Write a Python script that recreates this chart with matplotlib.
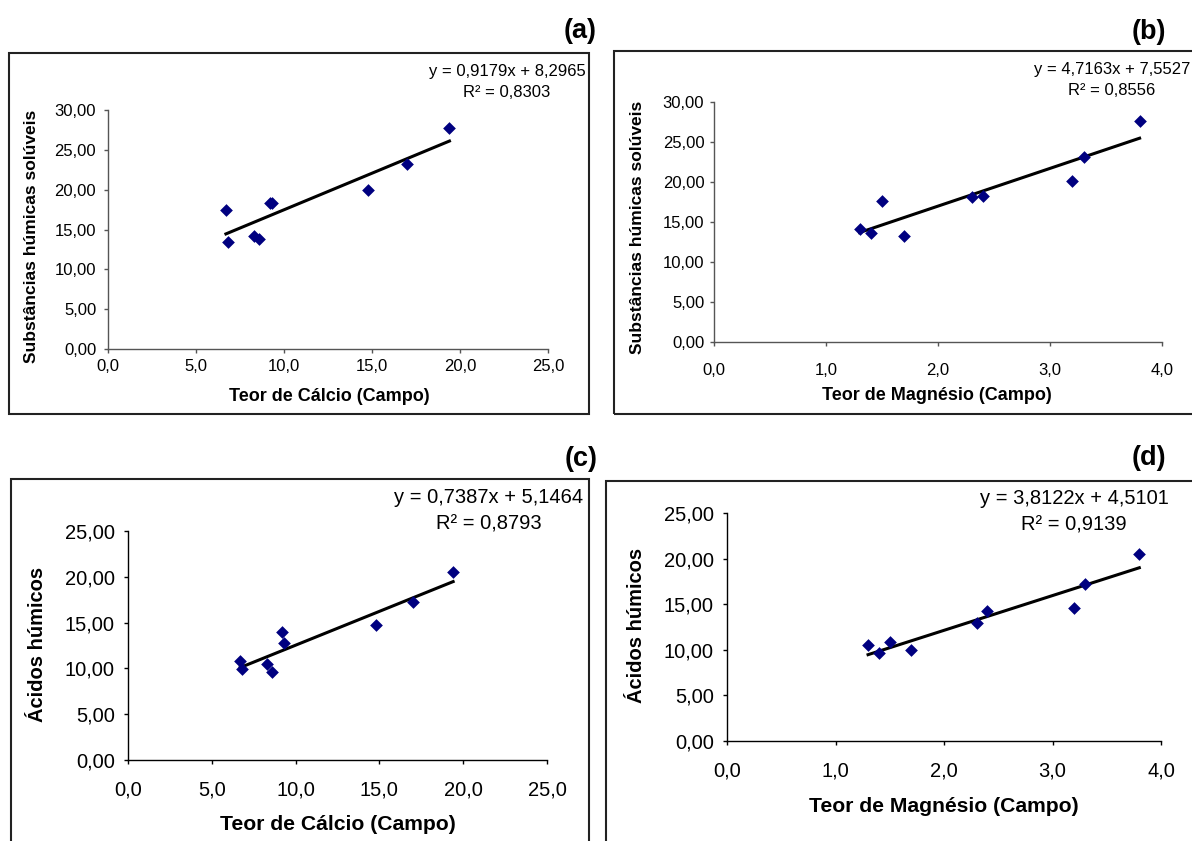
import matplotlib.pyplot as plt
from matplotlib.patches import Rectangle
from matplotlib.ticker import FuncFormatter

plt.rcParams['font.family'] = ['Liberation Sans', 'DejaVu Sans']

# Teor de Cálcio / Magnésio (Campo) vs. substâncias húmicas solúveis e ácidos húmicos
ca_a = [6.7, 6.8, 8.3, 8.6, 9.2, 9.3, 14.8, 17.0, 19.4]
shs_a = [17.5, 13.4, 14.2, 13.8, 18.3, 18.3, 20.0, 23.2, 27.8]

mg_b = [1.3, 1.4, 1.5, 1.7, 2.3, 2.4, 3.2, 3.3, 3.8]
shs_b = [14.1, 13.6, 17.6, 13.3, 18.1, 18.3, 20.1, 23.1, 27.6]

ca_c = [6.7, 6.8, 8.3, 8.6, 9.2, 9.3, 14.8, 17.0, 19.4]
ah_c = [10.8, 9.9, 10.5, 9.6, 14.0, 12.8, 14.7, 17.2, 20.5]

mg_d = [1.3, 1.4, 1.5, 1.7, 2.3, 2.4, 3.2, 3.3, 3.8]
ah_d = [10.5, 9.6, 10.9, 10.0, 12.9, 14.2, 14.6, 17.2, 20.5]

# trendline coefficients (slope, intercept, R²)
fit_a = (0.9179, 8.2965, 0.8303)
fit_b = (4.7163, 7.5527, 0.8556)
fit_c = (0.7387, 5.1464, 0.8793)
fit_d = (3.8122, 4.5101, 0.9139)

W, H = 1192, 841
fig = plt.figure(figsize=(W / 100, H / 100), dpi=100)


def fx(x):
    return x / W


def fy(y):
    return 1 - y / H


def comma(fmt):
    return FuncFormatter(lambda v, p: format(v, fmt).replace('.', ','))


def panel(box, frame, x, y, fit, xlim, xstep, ylim, ystep, xlabel, ylabel,
          tag, spine, fs_tick, fs_xlab, fs_ylab, xpad, ypad,
          eq_pos, xlab_pos, ylab_pos, tag_pos):
    x0, ytop, x1, ybot = box
    fig.patches.append(Rectangle((fx(frame[0]), fy(frame[3])),
                                 (frame[2] - frame[0]) / W, (frame[3] - frame[1]) / H,
                                 transform=fig.transFigure, fill=False,
                                 ec='#222222', lw=1.5, clip_on=False))
    ax = fig.add_axes([fx(x0), fy(ybot), (x1 - x0) / W, (ybot - ytop) / H])
    ax.patch.set_alpha(0)
    ax.scatter(x, y, marker='D', s=42, color='#000080', zorder=3, linewidths=0)
    m, b, r2 = fit
    xs = [min(x), max(x)]
    ax.plot(xs, [m * v + b for v in xs], color='black', lw=2.2, zorder=2)
    ax.set_xlim(*xlim)
    ax.set_ylim(*ylim)
    ax.set_xticks([xlim[0] + i * xstep for i in range(int(round((xlim[1] - xlim[0]) / xstep)) + 1)])
    ax.set_yticks([ylim[0] + i * ystep for i in range(int(round((ylim[1] - ylim[0]) / ystep)) + 1)])
    ax.xaxis.set_major_formatter(comma('.1f'))
    ax.yaxis.set_major_formatter(comma('.2f'))
    for s in ['top', 'right']:
        ax.spines[s].set_visible(False)
    for s in ['left', 'bottom']:
        ax.spines[s].set_color(spine)
        ax.spines[s].set_linewidth(1.0)
    ax.tick_params(axis='x', length=3, width=1, color=spine, labelsize=fs_tick, pad=xpad)
    ax.tick_params(axis='y', length=3, width=1, color=spine, labelsize=fs_tick, pad=ypad)
    eq = 'y = ' + format(m, '.4f').replace('.', ',') + 'x + ' + format(b, '.4f').replace('.', ',')
    eq += '\nR² = ' + format(r2, '.4f').replace('.', ',')
    fig.text(fx(eq_pos[0]), fy(eq_pos[1]), eq, ha='center', va='center',
             multialignment='center', fontsize=fs_tick, linespacing=1.5)
    fig.text(fx(xlab_pos[0]), fy(xlab_pos[1]), xlabel, ha='center', va='center',
             fontsize=fs_xlab, fontweight='bold')
    fig.text(fx(ylab_pos[0]), fy(ylab_pos[1]), ylabel, ha='center', va='center',
             fontsize=fs_ylab, fontweight='bold', rotation=90)
    fig.text(fx(tag_pos[0]), fy(tag_pos[1]), tag, ha='right', va='center',
             fontsize=19.5, fontweight='bold')
    return ax


panel((108, 110, 548, 349), (9, 53, 589, 414), ca_a, shs_a, fit_a,
      (0, 25), 5, (0, 30), 5, 'Teor de Cálcio (Campo)', 'Substâncias húmicas solúveis',
      '(a)', '#555555', 12, 13, 12.5, 4, 5.5, (507, 82), (329, 397), (32, 236), (597, 31))

panel((714, 102, 1162, 342), (614, 51, 1200, 414), mg_b, shs_b, fit_b,
      (0, 4), 1, (0, 30), 5, 'Teor de Magnésio (Campo)', 'Substâncias húmicas solúveis',
      '(b)', '#555555', 12, 13, 12.5, 12, 4, (1112, 80), (937, 396), (638, 227), (1166, 32))

panel((128, 531, 547, 760), (11, 479, 589, 850), ca_c, ah_c, fit_c,
      (0, 25), 5, (0, 25), 5, 'Teor de Cálcio (Campo)', 'Ácidos húmicos',
      '(c)', 'black', 14.5, 15.2, 14.5, 12, 6.5, (489, 511), (338, 824), (38, 644), (598, 459))

panel((727, 513, 1161, 741), (606, 481, 1200, 850), mg_d, ah_d, fit_d,
      (0, 4), 1, (0, 25), 5, 'Teor de Magnésio (Campo)', 'Ácidos húmicos',
      '(d)', 'black', 14.5, 15.2, 14.5, 11.5, 6.5, (1074, 512), (944, 807), (637, 625), (1166, 458))

fig.savefig('out.png', dpi=100)
